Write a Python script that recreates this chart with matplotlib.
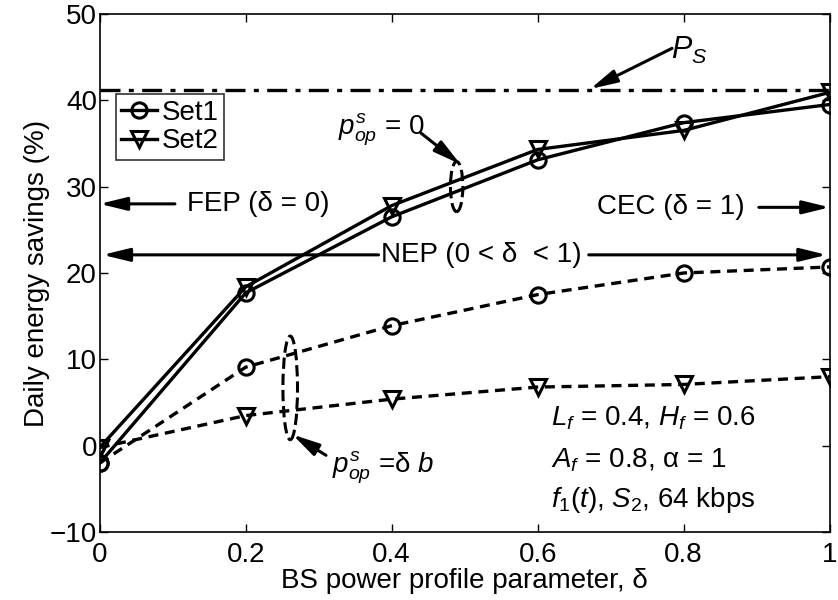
import numpy as np
import matplotlib
matplotlib.use("Agg")
import matplotlib.pyplot as plt
from matplotlib.patches import Ellipse

plt.rcParams['font.family'] = ['Liberation Sans', 'DejaVu Sans']
plt.rcParams['mathtext.fontset'] = 'custom'
plt.rcParams['mathtext.rm'] = 'Liberation Sans'
plt.rcParams['mathtext.it'] = 'Liberation Sans:italic'

delta = [0, 0.2, 0.4, 0.6, 0.8, 1.0]
# p_op^s = 0 (solid)
set1_zero = [-2.0, 17.7, 26.5, 33.1, 37.4, 39.5]
set2_zero = [-0.2, 18.4, 27.8, 34.3, 36.5, 40.9]
# p_op^s = delta*b (dashed)
set1_db = [-2.0, 9.1, 13.9, 17.5, 20.0, 20.7]
set2_db = [-0.2, 3.5, 5.4, 6.8, 7.1, 8.0]
ps_level = 41.2

fs = 20

fig = plt.figure(figsize=(8.38, 6.0), dpi=100)
ax = fig.add_axes([0.119, 0.113, 0.871, 0.864])

lw = 2.4
ms = 11
ax.axhline(ps_level, color='k', lw=lw, ls='-.', dashes=(6, 2.5, 1.5, 2.5))
ax.plot(delta, set1_zero, 'k-', lw=lw, marker='o', ms=ms, mfc='none', mew=2.2, label='Set1')
ax.plot(delta, set2_zero, 'k-', lw=lw, marker='v', ms=ms + 1, mfc='none', mew=2.2, label='Set2')
ax.plot(delta, set1_db, 'k--', lw=lw, marker='o', ms=ms, mfc='none', mew=2.2, dashes=(3, 2))
ax.plot(delta, set2_db, 'k--', lw=lw, marker='v', ms=ms + 1, mfc='none', mew=2.2, dashes=(3, 2))

ax.set_xlim(0, 1)
ax.set_ylim(-10, 50)
ax.set_xticks([0, 0.2, 0.4, 0.6, 0.8, 1])
ax.set_xticklabels(['0', '0.2', '0.4', '0.6', '0.8', '1'])
ax.set_yticks([-10, 0, 10, 20, 30, 40, 50])
ax.set_yticklabels(['\u221210', '0', '10', '20', '30', '40', '50'])
ax.tick_params(direction='in', top=True, right=True, labelsize=fs, length=6, width=1)
ax.tick_params(axis='x', pad=7)
ax.tick_params(axis='y', pad=2)
for s in ax.spines.values():
    s.set_linewidth(1.2)
ax.set_xlabel('BS power profile parameter, \u03b4', fontsize=fs, labelpad=0)
ax.set_ylabel('Daily energy savings (%)', fontsize=fs, labelpad=0)

leg = ax.legend(loc='upper left', bbox_to_anchor=(0.022, 0.845), fontsize=fs,
                handlelength=1.3, handletextpad=0.15, borderpad=0.2,
                labelspacing=0.1, borderaxespad=0, fancybox=False, edgecolor='k')
leg.get_frame().set_linewidth(1.2)

arrow = dict(arrowstyle='-|>,head_length=0.9,head_width=0.22', color='k', lw=2.2,
             shrinkA=0, shrinkB=0, mutation_scale=18)

# P_S label
ax.text(0.782, 45.8, '$P_S$', fontsize=22, ha='left', va='center')
ax.annotate('', xy=(0.672, 41.3), xytext=(0.784, 46.0), arrowprops=arrow)

# FEP / NEP / CEC arrows
ax.annotate('', xy=(0.0, 28.0), xytext=(0.103, 28.0), arrowprops=arrow)
ax.text(0.12, 28.0, 'FEP (\u03b4 = 0)', fontsize=fs, va='center')
ax.annotate('', xy=(0.004, 22.1), xytext=(0.382, 22.1), arrowprops=arrow)
ax.annotate('', xy=(0.996, 22.1), xytext=(0.67, 22.1), arrowprops=arrow)
ax.text(0.523, 22.1, 'NEP (0 < \u03b4  < 1)', fontsize=fs, ha='center', va='center')
ax.text(0.884, 27.6, 'CEC (\u03b4 = 1)', fontsize=fs, ha='right', va='center')
ax.annotate('', xy=(1.0, 27.6), xytext=(0.903, 27.6), arrowprops=arrow)

# policy groups
ax.add_patch(Ellipse((0.489, 30.0), 0.017, 5.8, fill=False, ls='--', lw=2.2, ec='k'))
ax.text(0.326, 36.6, '$p^{s}_{op}$ = 0', fontsize=fs, va='center')
ax.annotate('', xy=(0.494, 32.6), xytext=(0.44, 36.2), arrowprops=arrow)

ax.add_patch(Ellipse((0.261, 6.7), 0.02, 12.0, fill=False, ls='--', lw=2.2, ec='k'))
ax.text(0.318, -2.6, '$p^{s}_{op}$ =\u03b4 $b$', fontsize=fs, va='center')
ax.annotate('', xy=(0.264, 1.3), xytext=(0.31, -1.1), arrowprops=arrow)

# parameter notes
ax.text(0.618, 3.2, '$L_f$ = 0.4, $H_f$ = 0.6', fontsize=fs, va='center')
ax.text(0.618, -1.7, '$A_f$ = 0.8, \u03b1 = 1', fontsize=fs, va='center')
ax.text(0.618, -6.3, '$f_1$($t$), $S_2$, 64 kbps', fontsize=fs, va='center')

fig.savefig('out.png', dpi=100)
